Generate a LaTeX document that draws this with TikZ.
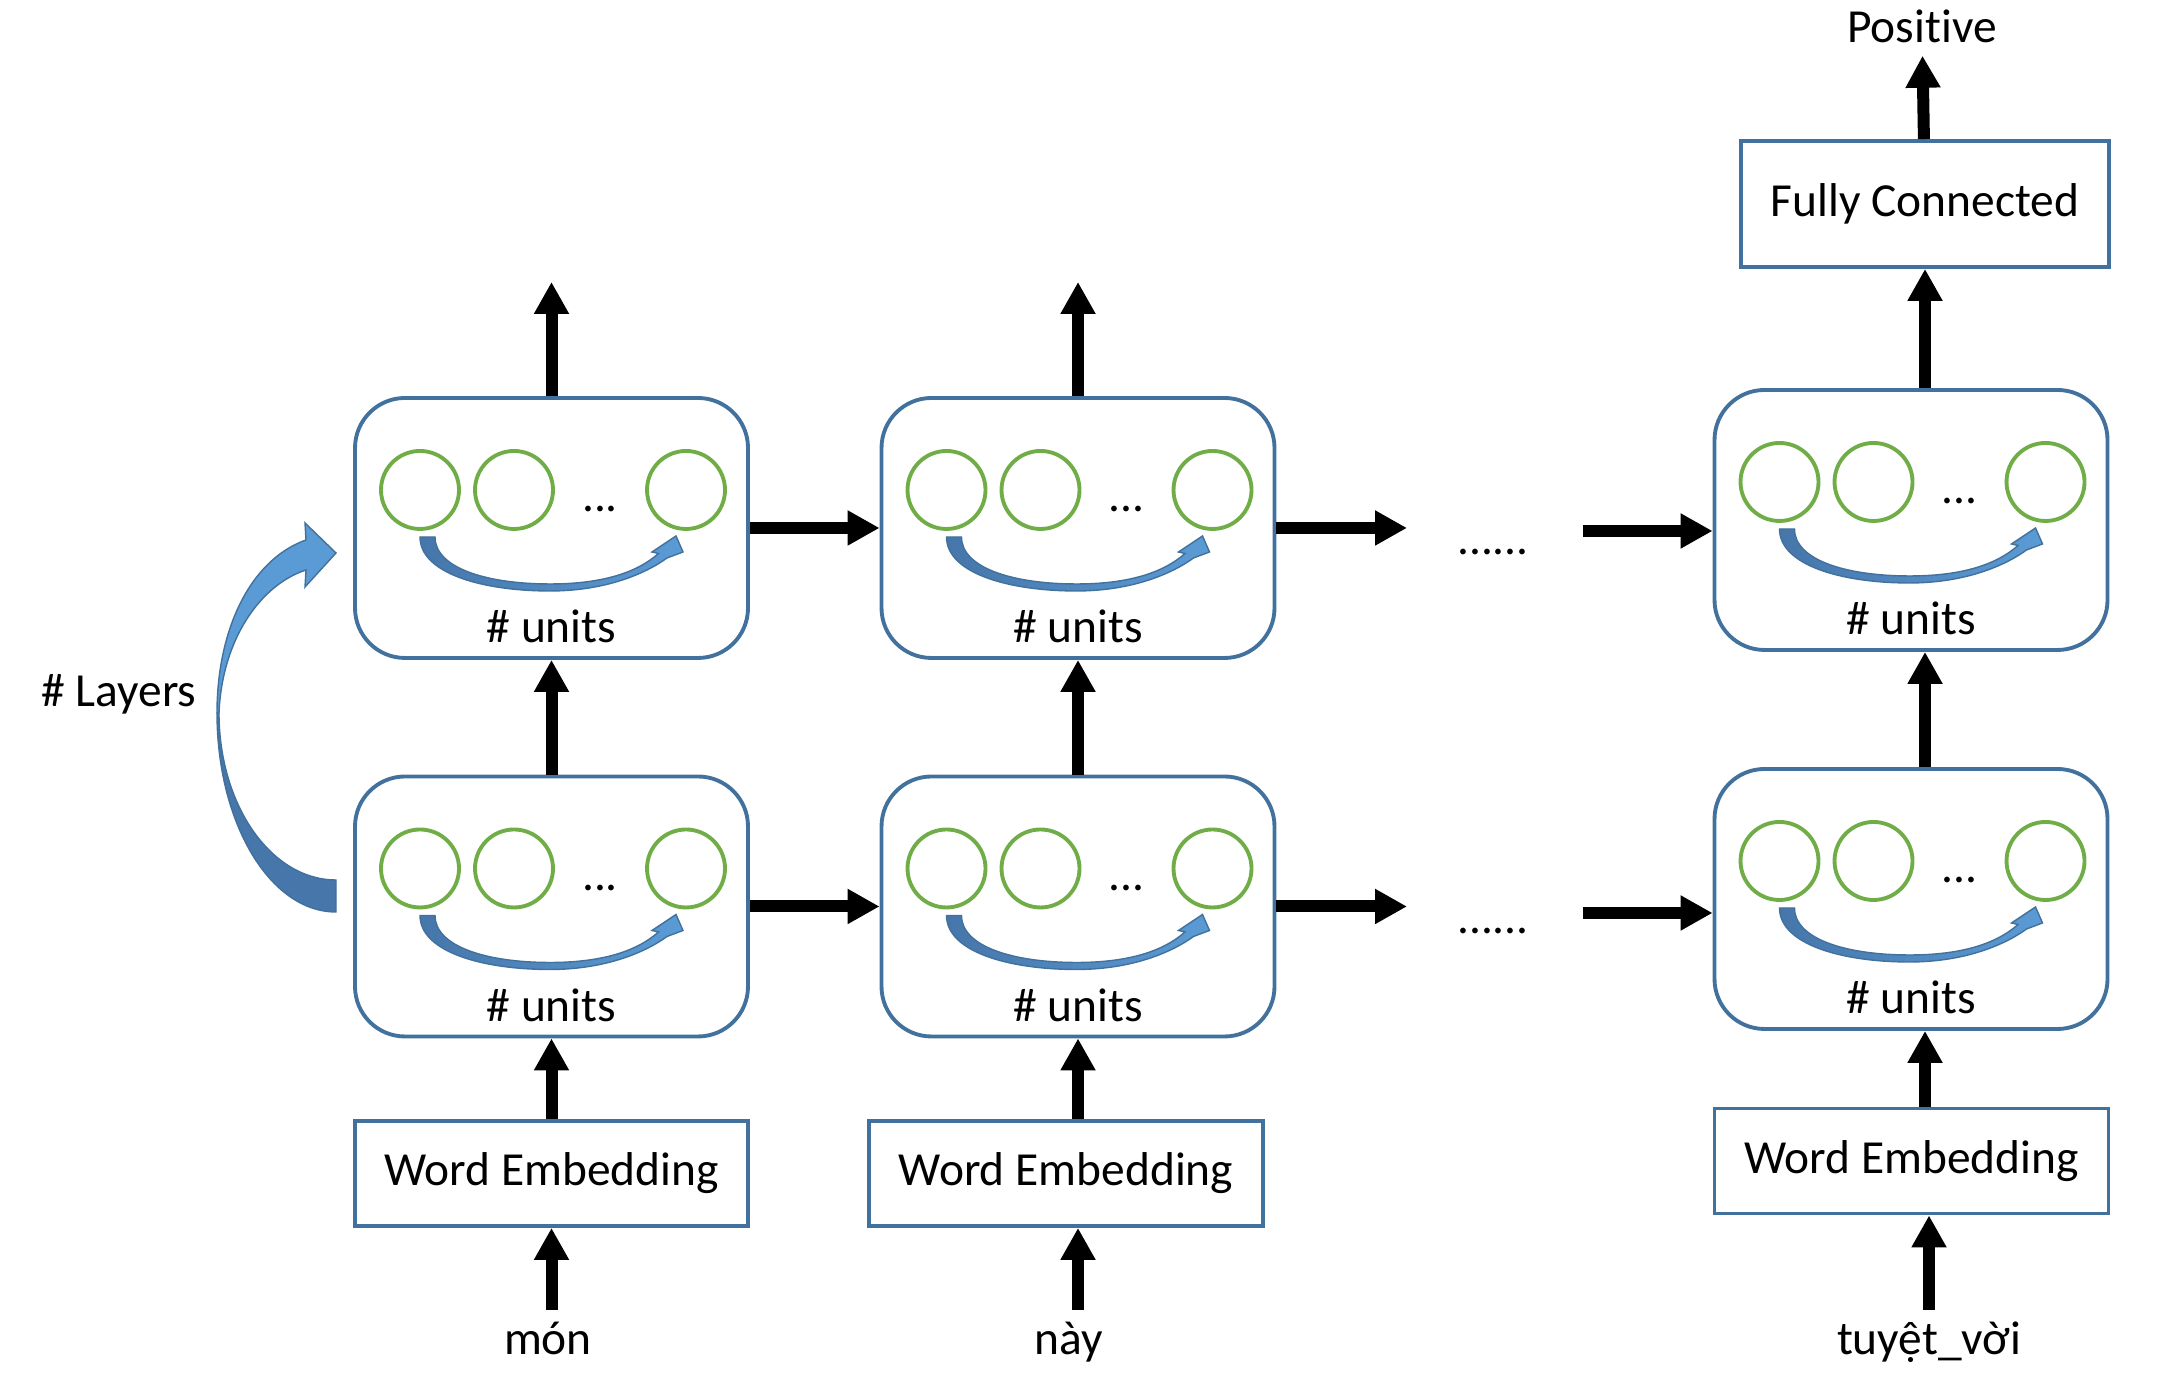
\documentclass[tikz,border=0pt]{standalone}
\usepackage{fontspec}
\setmainfont{Carlito}[Ligatures=NoCommon]
\usepackage{tikz}
\usetikzlibrary{arrows.meta}

\definecolor{bordbleu}{RGB}{65,113,156}
\definecolor{vertunite}{RGB}{112,173,71}
\definecolor{bleuclair}{RGB}{91,155,213}
\definecolor{bleufonce}{RGB}{70,118,170}

\begin{document}
\begin{tikzpicture}[font=\fontsize{13.5}{16}\selectfont]

\tikzstyle{cellule}=[rectangle, draw=bordbleu, line width=1.1pt, rounded corners=0.5cm, minimum width=3.93cm, minimum height=2.6cm]
\tikzstyle{boite}=[rectangle, draw=bordbleu, line width=1.1pt, minimum width=3.93cm, minimum height=1.05cm]
\tikzstyle{neurone}=[circle, draw=vertunite, line width=1.1pt, minimum size=0.78cm, inner sep=0pt]
\tikzstyle{suite}=[-{Triangle[length=0.32cm,width=0.33cm]}, line width=0.12cm]
\tikzstyle{fleche}=[draw=bordbleu, line width=0.4pt, left color=bleufonce, right color=bleuclair]

\useasboundingbox (0,0) rectangle (21.6,13.84);

%placement des cellules
\node[cellule] (h1a) at (5.515,4.775) {};
\node[cellule] (h1b) at (10.78,4.775) {};
\node[cellule] (h1c) at (19.11,4.85) {};
\node[cellule] (h2a) at (5.515,8.56) {};
\node[cellule] (h2b) at (10.78,8.56) {};
\node[cellule] (h2c) at (19.11,8.64) {};

%contenu des cellules
\foreach \c in {h1a,h1b,h1c,h2a,h2b,h2c}{
  \begin{scope}[shift={(\c)}]
    \node[neurone] (\c-n1) at (-1.315,0.38) {};
    \node[neurone] (\c-n2) at (-0.375,0.38) {};
    \node[neurone] (\c-n3) at (1.345,0.38) {};
    \node[anchor=base] (\c-pts) at (0.485,0.16) {...};
    \node[anchor=base] (\c-nb) at (0,-1.15) {\# units};
    \path[fleche] (-1.315,-0.09) .. controls (-1.315,-0.45) and (-0.7,-0.63) .. (-0.015,-0.63)
      .. controls (0.55,-0.63) and (0.95,-0.45) .. (1.155,-0.30) -- (1.315,-0.24) -- (1.245,-0.08)
      -- (1.005,-0.24) -- (1.07,-0.255) .. controls (0.85,-0.45) and (0.5,-0.56) .. (-0.015,-0.56)
      .. controls (-0.65,-0.56) and (-1.165,-0.40) .. (-1.165,-0.09) -- cycle;
  \end{scope}
}

%embeddings, sortie et textes
\node[boite] (emba) at (5.515,2.105) {Word Embedding};
\node[boite, minimum width=3.94cm] (embb) at (10.66,2.105) {Word Embedding};
\node[boite, minimum width=3.94cm] (embc) at (19.115,2.23) {Word Embedding};
\node[boite, minimum width=3.68cm, minimum height=1.26cm] (fc) at (19.25,11.80) {Fully Connected};
\node[anchor=base] (pos) at (19.22,13.41) {Positive};
\node[anchor=base] (wa) at (5.48,0.29) {món};
\node[anchor=base] (wb) at (10.69,0.29) {này};
\node[anchor=base] (wc) at (19.29,0.29) {tuyệt\_vời};
\node[anchor=base] (pa) at (14.93,8.29) {......};
\node[anchor=base] (pb) at (14.93,4.50) {......};
\node[anchor=base] (layers) at (1.19,6.77) {\# Layers};

\coordinate (oa) at (5.515,11.02);
\coordinate (ob) at (10.78,11.02);
\coordinate (ga) at (14.07,8.56);
\coordinate (gb) at (15.83,8.53);
\coordinate (gc) at (14.07,4.775);
\coordinate (gd) at (15.83,4.71);

%fleche des couches
\path[draw=bordbleu, line width=0.4pt, fill=bleufonce] (3.36,4.72) .. controls (2.70,4.72) and (2.17,5.61) .. (2.17,6.71)
  -- (2.19,6.71) .. controls (2.19,5.79) and (2.71,5.04) .. (3.36,5.04) -- cycle;
\path[draw=bordbleu, line width=0.4pt, fill=bleuclair] (2.17,6.71) .. controls (2.17,7.54) and (2.50,8.24) .. (3.06,8.44)
  -- (3.05,8.61) -- (3.36,8.31) -- (3.05,7.97) -- (3.06,8.14) .. controls (2.60,7.99) and (2.22,7.44) .. (2.19,6.71) -- cycle;

%placement des fleches
\draw[suite] (h1a |- wa.north) -- (h1a |- emba.south);
\draw[suite] (h1b |- wb.north) -- (h1b |- embb.south);
\draw[suite] (wc) -- (wc |- embc.south);
\draw[suite] (h1a |- emba.north) -- (h1a);
\draw[suite] (h1b |- embb.north) -- (h1b);
\draw[suite] (fc |- embc.north) -- (fc |- h1c.south);
\draw[suite] (h1a) -- (h2a);
\draw[suite] (h1b) -- (h2b);
\draw[suite] (fc |- h1c.north) -- (fc |- h2c.south);
\draw[suite] (h2a) -- (oa);
\draw[suite] (h2b) -- (ob);
\draw[suite] (fc |- h2c.north) -- (fc);
\draw[suite] (fc) -- (pos);
\draw[suite] (h2a) -- (h2b);
\draw[suite] (h1a) -- (h1b);
\draw[suite] (h2b) -- (ga);
\draw[suite] (h1b) -- (gc);
\draw[suite] (gb) -- (gb -| h2c.west);
\draw[suite] (gd) -- (gd -| h1c.west);
\end{tikzpicture}
\end{document}
